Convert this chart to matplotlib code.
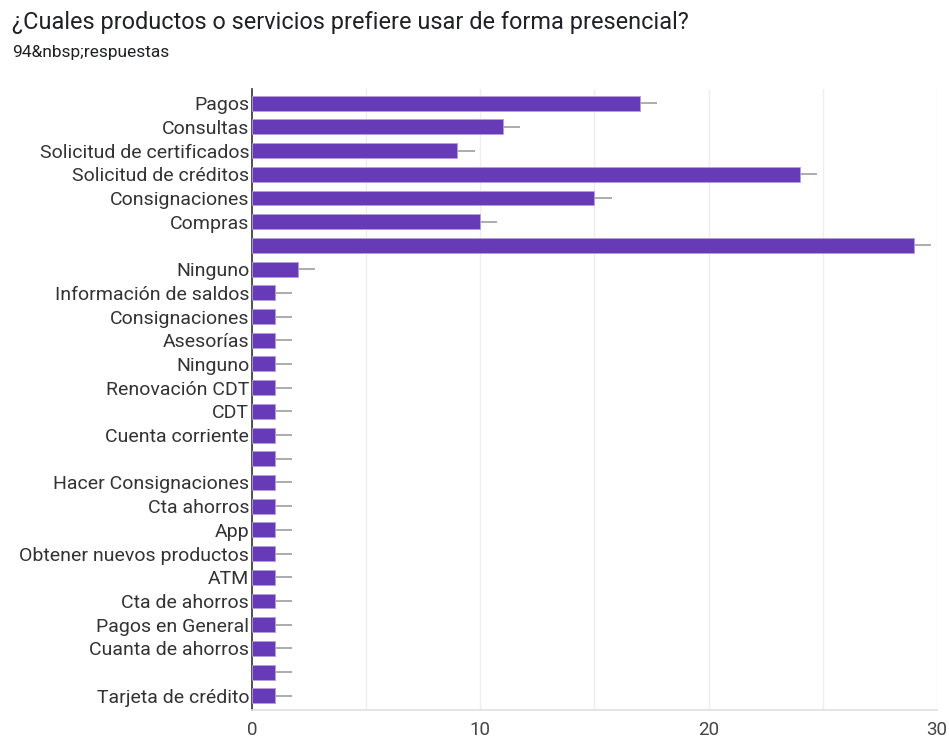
import matplotlib
matplotlib.use("Agg")
import matplotlib.pyplot as plt

categories = [
    "Pagos", "Consultas", "Solicitud de certificados", "Solicitud de créditos",
    "Consignaciones", "Compras", "", "Ninguno", "Información de saldos",
    "Consignaciones", "Asesorías", "Ninguno", "Renovación CDT", "CDT",
    "Cuenta corriente", "", "Hacer Consignaciones", "Cta ahorros", "App",
    "Obtener nuevos productos", "ATM", "Cta de ahorros", "Pagos en General",
    "Cuanta de ahorros", "", "Tarjeta de crédito",
]
values = [17, 11, 9, 24, 15, 10, 29, 2, 1, 1, 1, 1, 1, 1, 1, 1, 1, 1, 1, 1, 1, 1, 1, 1, 1, 1]
xticks = [0, 10, 20, 30]

plt.rcParams["font.family"] = ["Roboto", "DejaVu Sans"]

fig = plt.figure(figsize=(9.49, 7.42), dpi=100)
ax = fig.add_axes([252 / 949, 1 - 710 / 742, (937 - 252) / 949, (710 - 89) / 742])

n = len(categories)
ypos = list(range(n))
err = 0.75
for y, v in zip(ypos, values):
    ax.plot([v, v + err], [y, y], color="#9e9e9e", lw=1.2, zorder=2, solid_capstyle="butt")
ax.barh(ypos, values, height=0.63, color="#673ab7", edgecolor="#b39ddb", linewidth=0.6, zorder=3)

ax.set_ylim(n - 0.4, -0.6)
ax.set_xlim(0, 30)
ax.set_yticks(ypos)
ax.set_yticklabels(categories, fontsize=14, color="#333333")
ax.set_xticks(xticks)
ax.set_xticklabels([str(t) for t in xticks], fontsize=13.5, color="#444444")
ax.set_xticks([5, 15, 25], minor=True)
ax.tick_params(axis="y", length=0, pad=2)
ax.tick_params(axis="x", length=0, pad=8)
ax.tick_params(axis="x", which="minor", length=0)
ax.grid(axis="x", which="both", color="#eeeeee", lw=1, zorder=0)
ax.set_axisbelow(True)
for s in ["top", "right"]:
    ax.spines[s].set_visible(False)
ax.spines["left"].set_color("#333333")
ax.spines["left"].set_linewidth(1.2)
ax.spines["bottom"].set_color("#e0e0e0")
ax.spines["bottom"].set_linewidth(1.2)

fig.text(12 / 949, 1 - 22 / 742, "¿Cuales productos o servicios prefiere usar de forma presencial?",
         fontsize=16.9, color="#202124", va="center", ha="left")
fig.text(12 / 949, 1 - 52 / 742, "94&nbsp;respuestas", fontsize=12.5, color="#202124",
         va="center", ha="left")

fig.savefig("out.png", dpi=100, facecolor="white")
